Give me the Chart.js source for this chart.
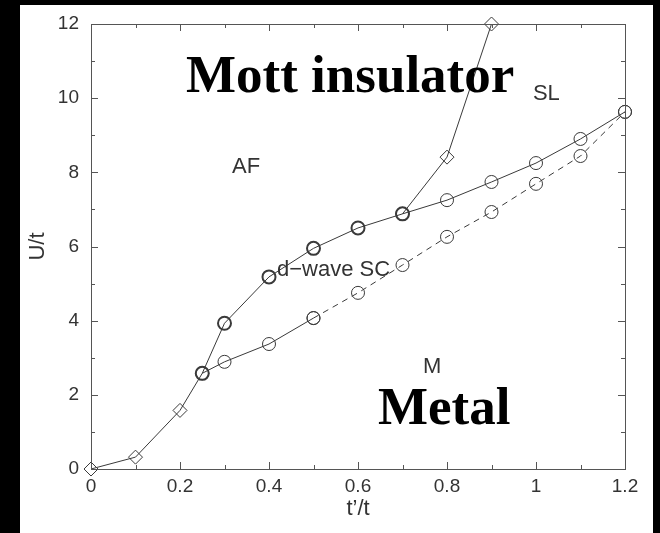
<!DOCTYPE html>
<html>
<head>
<meta charset="utf-8">
<script src="https://cdn.jsdelivr.net/npm/chart.js@4"></script>
<style>
html,body{margin:0;padding:0;background:#000;}
#c{display:block;}
</style>
</head>
<body>
<canvas id="c" width="660" height="533"></canvas>
<script>
// t'/t and U/t
const tpAF = [0, 0.1, 0.2, 0.25];
const uAF = [0, 0.32, 1.58, 2.58];
const tpUpper = [0.25, 0.3, 0.4, 0.5, 0.6, 0.7, 0.8, 0.9];
const uUpper = [2.58, 3.93, 5.18, 5.95, 6.5, 6.88, 8.41, 12];
const tpSL = [0.7, 0.8, 0.9, 1.0, 1.1, 1.2];
const uSL = [6.88, 7.25, 7.74, 8.25, 8.9, 9.63];
const tpLow = [0.25, 0.3, 0.4, 0.5];
const uLow = [2.58, 2.89, 3.37, 4.07];
const tpDash = [0.5, 0.6, 0.7, 0.8, 0.9, 1.0, 1.1, 1.2];
const uDash = [4.07, 4.75, 5.5, 6.26, 6.93, 7.69, 8.44, 9.63];
const xTicks = [0, 0.2, 0.4, 0.6, 0.8, 1, 1.2];
const yTicks = [0, 2, 4, 6, 8, 10, 12];

const LC = '#3a3a3a';
const SANS = '"Liberation Sans", Arial, sans-serif';
const SERIF = 'bold 53px "Liberation Serif", "Times New Roman", serif';
const pts = (xs, ys) => xs.map((x, i) => ({x: x, y: ys[i]}));

// region labels, in data coords
const notes = [
  {t: 'Mott insulator', x: 0.2135, y: 10.17, f: SERIF, c: '#000'},
  {t: 'Metal', x: 0.645, y: 1.21, f: SERIF, c: '#000'},
  {t: 'SL', x: 0.993, y: 9.95, f: '22px ' + SANS, c: '#333'},
  {t: 'AF', x: 0.317, y: 7.98, f: '22px ' + SANS, c: '#333'},
  {t: 'd\u2212wave SC', x: 0.418, y: 5.2, f: '22px ' + SANS, c: '#333'},
  {t: 'M', x: 0.746, y: 2.59, f: '22px ' + SANS, c: '#333'}
];

const framePlugin = {
  id: 'frame',
  beforeDraw(chart) {
    const ctx = chart.ctx;
    ctx.save();
    ctx.fillStyle = '#000';
    ctx.fillRect(0, 0, chart.width, chart.height);
    ctx.fillStyle = '#fff';
    ctx.fillRect(20, 5, 633, 528);
    ctx.restore();
  },
  afterDraw(chart) {
    const ctx = chart.ctx, a = chart.chartArea;
    const xs = chart.scales.x, ys = chart.scales.y;
    ctx.save();
    ctx.strokeStyle = '#555';
    ctx.lineWidth = 1;
    ctx.strokeRect(Math.round(a.left) + 0.5, Math.round(a.top) + 0.5, Math.round(a.right - a.left), Math.round(a.bottom - a.top));
    ctx.beginPath();
    for (let i = 1; i < 12; i++) {
      const px = Math.round(xs.getPixelForValue(i / 10)) + 0.5;
      const L = i % 2 === 0 ? 7 : 4;
      ctx.moveTo(px, a.bottom); ctx.lineTo(px, a.bottom - L);
      ctx.moveTo(px, a.top); ctx.lineTo(px, a.top + L);
    }
    for (let i = 1; i < 12; i++) {
      const py = Math.round(ys.getPixelForValue(i)) + 0.5;
      const L = i % 2 === 0 ? 7 : 4;
      ctx.moveTo(a.left, py); ctx.lineTo(a.left + L, py);
      ctx.moveTo(a.right, py); ctx.lineTo(a.right - L, py);
    }
    ctx.stroke();
    ctx.textAlign = 'left';
    ctx.textBaseline = 'alphabetic';
    notes.forEach(n => {
      ctx.font = n.f;
      ctx.fillStyle = n.c;
      ctx.fillText(n.t, xs.getPixelForValue(n.x), ys.getPixelForValue(n.y));
    });
    ctx.restore();
  }
};

const base = {showLine: true, borderColor: LC, borderWidth: 1, pointBorderColor: LC, pointBackgroundColor: 'rgba(0,0,0,0)', clip: false};

new Chart(document.getElementById('c'), {
  type: 'scatter',
  data: {
    datasets: [
      Object.assign({}, base, {data: pts(tpAF, uAF), pointStyle: 'rectRot', pointRadius: [7, 7, 7, 0]}),
      Object.assign({}, base, {data: pts(tpUpper, uUpper),
        pointStyle: ['circle', 'circle', 'circle', 'circle', 'circle', 'circle', 'rectRot', 'rectRot'],
        pointRadius: [6.5, 6.5, 6.5, 6.5, 6.5, 6.5, 7, 7],
        pointBorderWidth: [2, 2, 2, 2, 2, 2, 1, 1]}),
      Object.assign({}, base, {data: pts(tpSL, uSL), pointStyle: 'circle', pointRadius: 6.5}),
      Object.assign({}, base, {data: pts(tpLow, uLow), pointStyle: 'circle', pointRadius: 6.5}),
      Object.assign({}, base, {data: pts(tpDash, uDash), pointStyle: 'circle', pointRadius: 6.5, borderDash: [6, 5]})
    ]
  },
  options: {
    responsive: false,
    animation: false,
    devicePixelRatio: 1,
    layout: {padding: {top: 24, right: 35, left: 0, bottom: 0}},
    plugins: {legend: {display: false}, tooltip: {enabled: false}},
    scales: {
      x: {
        type: 'linear', min: 0, max: 1.2,
        afterBuildTicks: s => { s.ticks = xTicks.map(v => ({value: v})); },
        afterFit: s => { s.height = 64; },
        grid: {display: false, drawTicks: false},
        border: {display: false},
        ticks: {padding: 6, color: '#333', font: {family: SANS, size: 19}, callback: v => String(v)},
        title: {display: true, text: 't\u2019/t', color: '#333', padding: {top: 0, bottom: 11},
          font: {family: SANS, size: 22}}
      },
      y: {
        type: 'linear', min: 0, max: 12,
        afterBuildTicks: s => { s.ticks = yTicks.map(v => ({value: v})); },
        afterFit: s => { s.width = 91; },
        grid: {display: false, drawTicks: false},
        border: {display: false},
        ticks: {padding: 12, color: '#333', font: {family: SANS, size: 19}},
        title: {display: true, text: 'U/t', color: '#333', padding: {top: 25, bottom: 0},
          font: {family: SANS, size: 22}}
      }
    }
  },
  plugins: [framePlugin]
});
</script>
</body>
</html>
